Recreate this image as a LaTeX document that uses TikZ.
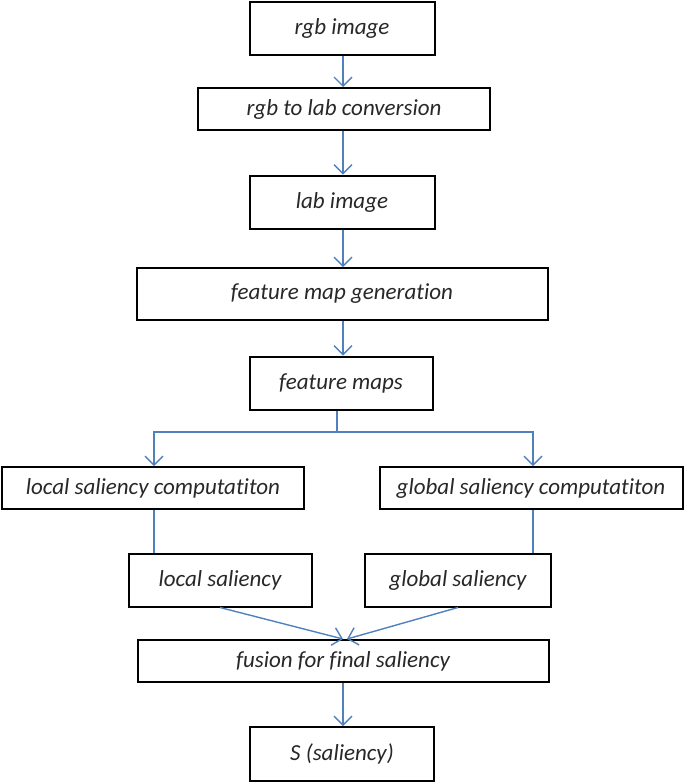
\documentclass[tikz,border=0pt]{standalone}
\usepackage{fontspec}
\setmainfont{Carlito}[Ligatures=NoCommon]
\usetikzlibrary{arrows.meta}
\definecolor{arrowblue}{RGB}{79,129,189}
\definecolor{textgrey}{RGB}{40,40,40}
\begin{document}
\begin{tikzpicture}[x=1pt,y=-1pt,
  box/.style={draw=black,line width=2pt,fill=white,inner sep=0pt,text=textgrey,font=\fontsize{23}{26}\selectfont\itshape},
  conn/.style={draw=arrowblue,line width=1.4pt},
  arr/.style={conn,-{Straight Barb[length=9pt,width=18pt,line width=1.4pt]}}]
\useasboundingbox (0,0) rectangle (685,782);
\node[box,minimum width=185pt,minimum height=53pt] (rgb) at (342,28) {rgb image};
\node[box,minimum width=292pt,minimum height=42pt] (conv) at (344,109) {rgb to lab conversion};
\node[box,minimum width=185pt,minimum height=53pt] (lab) at (342,202) {lab image};
\node[box,minimum width=411pt,minimum height=52pt] (fmg) at (342,294) {feature map generation};
\node[box,minimum width=183pt,minimum height=53pt] (fm) at (341,383) {feature maps};
\node[box,minimum width=302pt,minimum height=42pt] (lsc) at (153,488) {local saliency computatiton};
\node[box,minimum width=303pt,minimum height=42pt] (gsc) at (531,488) {global saliency computatiton};
\node[box,minimum width=183pt,minimum height=53pt] (ls) at (220,580) {local saliency};
\node[box,minimum width=186pt,minimum height=53pt] (gs) at (458,580) {global saliency};
\node[box,minimum width=411pt,minimum height=42pt] (fus) at (343,661) {fusion for final saliency};
\node[box,minimum width=184pt,minimum height=54pt] (s) at (342,754) {S (saliency)};
\coordinate (br) at (337,432);
\draw[arr] (rgb.south -| 343,0) -- (conv.north -| 343,0);
\draw[arr] (conv.south -| 343,0) -- (lab.north -| 343,0);
\draw[arr] (lab.south -| 343,0) -- (fmg.north -| 343,0);
\draw[arr] (fmg.south -| 343,0) -- (fm.north -| 343,0);
\draw[conn] (fm.south -| br) -- (br);
\draw[arr] (br) -| (lsc.north -| 154,0);
\draw[arr] (br) -| (gsc.north -| 533,0);
\draw[conn] (lsc.south -| 154,0) -- (ls.north -| 154,0);
\draw[conn] (gsc.south -| 533,0) -- (gs.north -| 533,0);
\draw[arr] (ls.south) -- (fus.north -| 343,0);
\draw[arr] (gs.south) -- (fus.north -| 347,0);
\draw[arr] (fus.south -| 343,0) -- (s.north -| 343,0);
\end{tikzpicture}
\end{document}
